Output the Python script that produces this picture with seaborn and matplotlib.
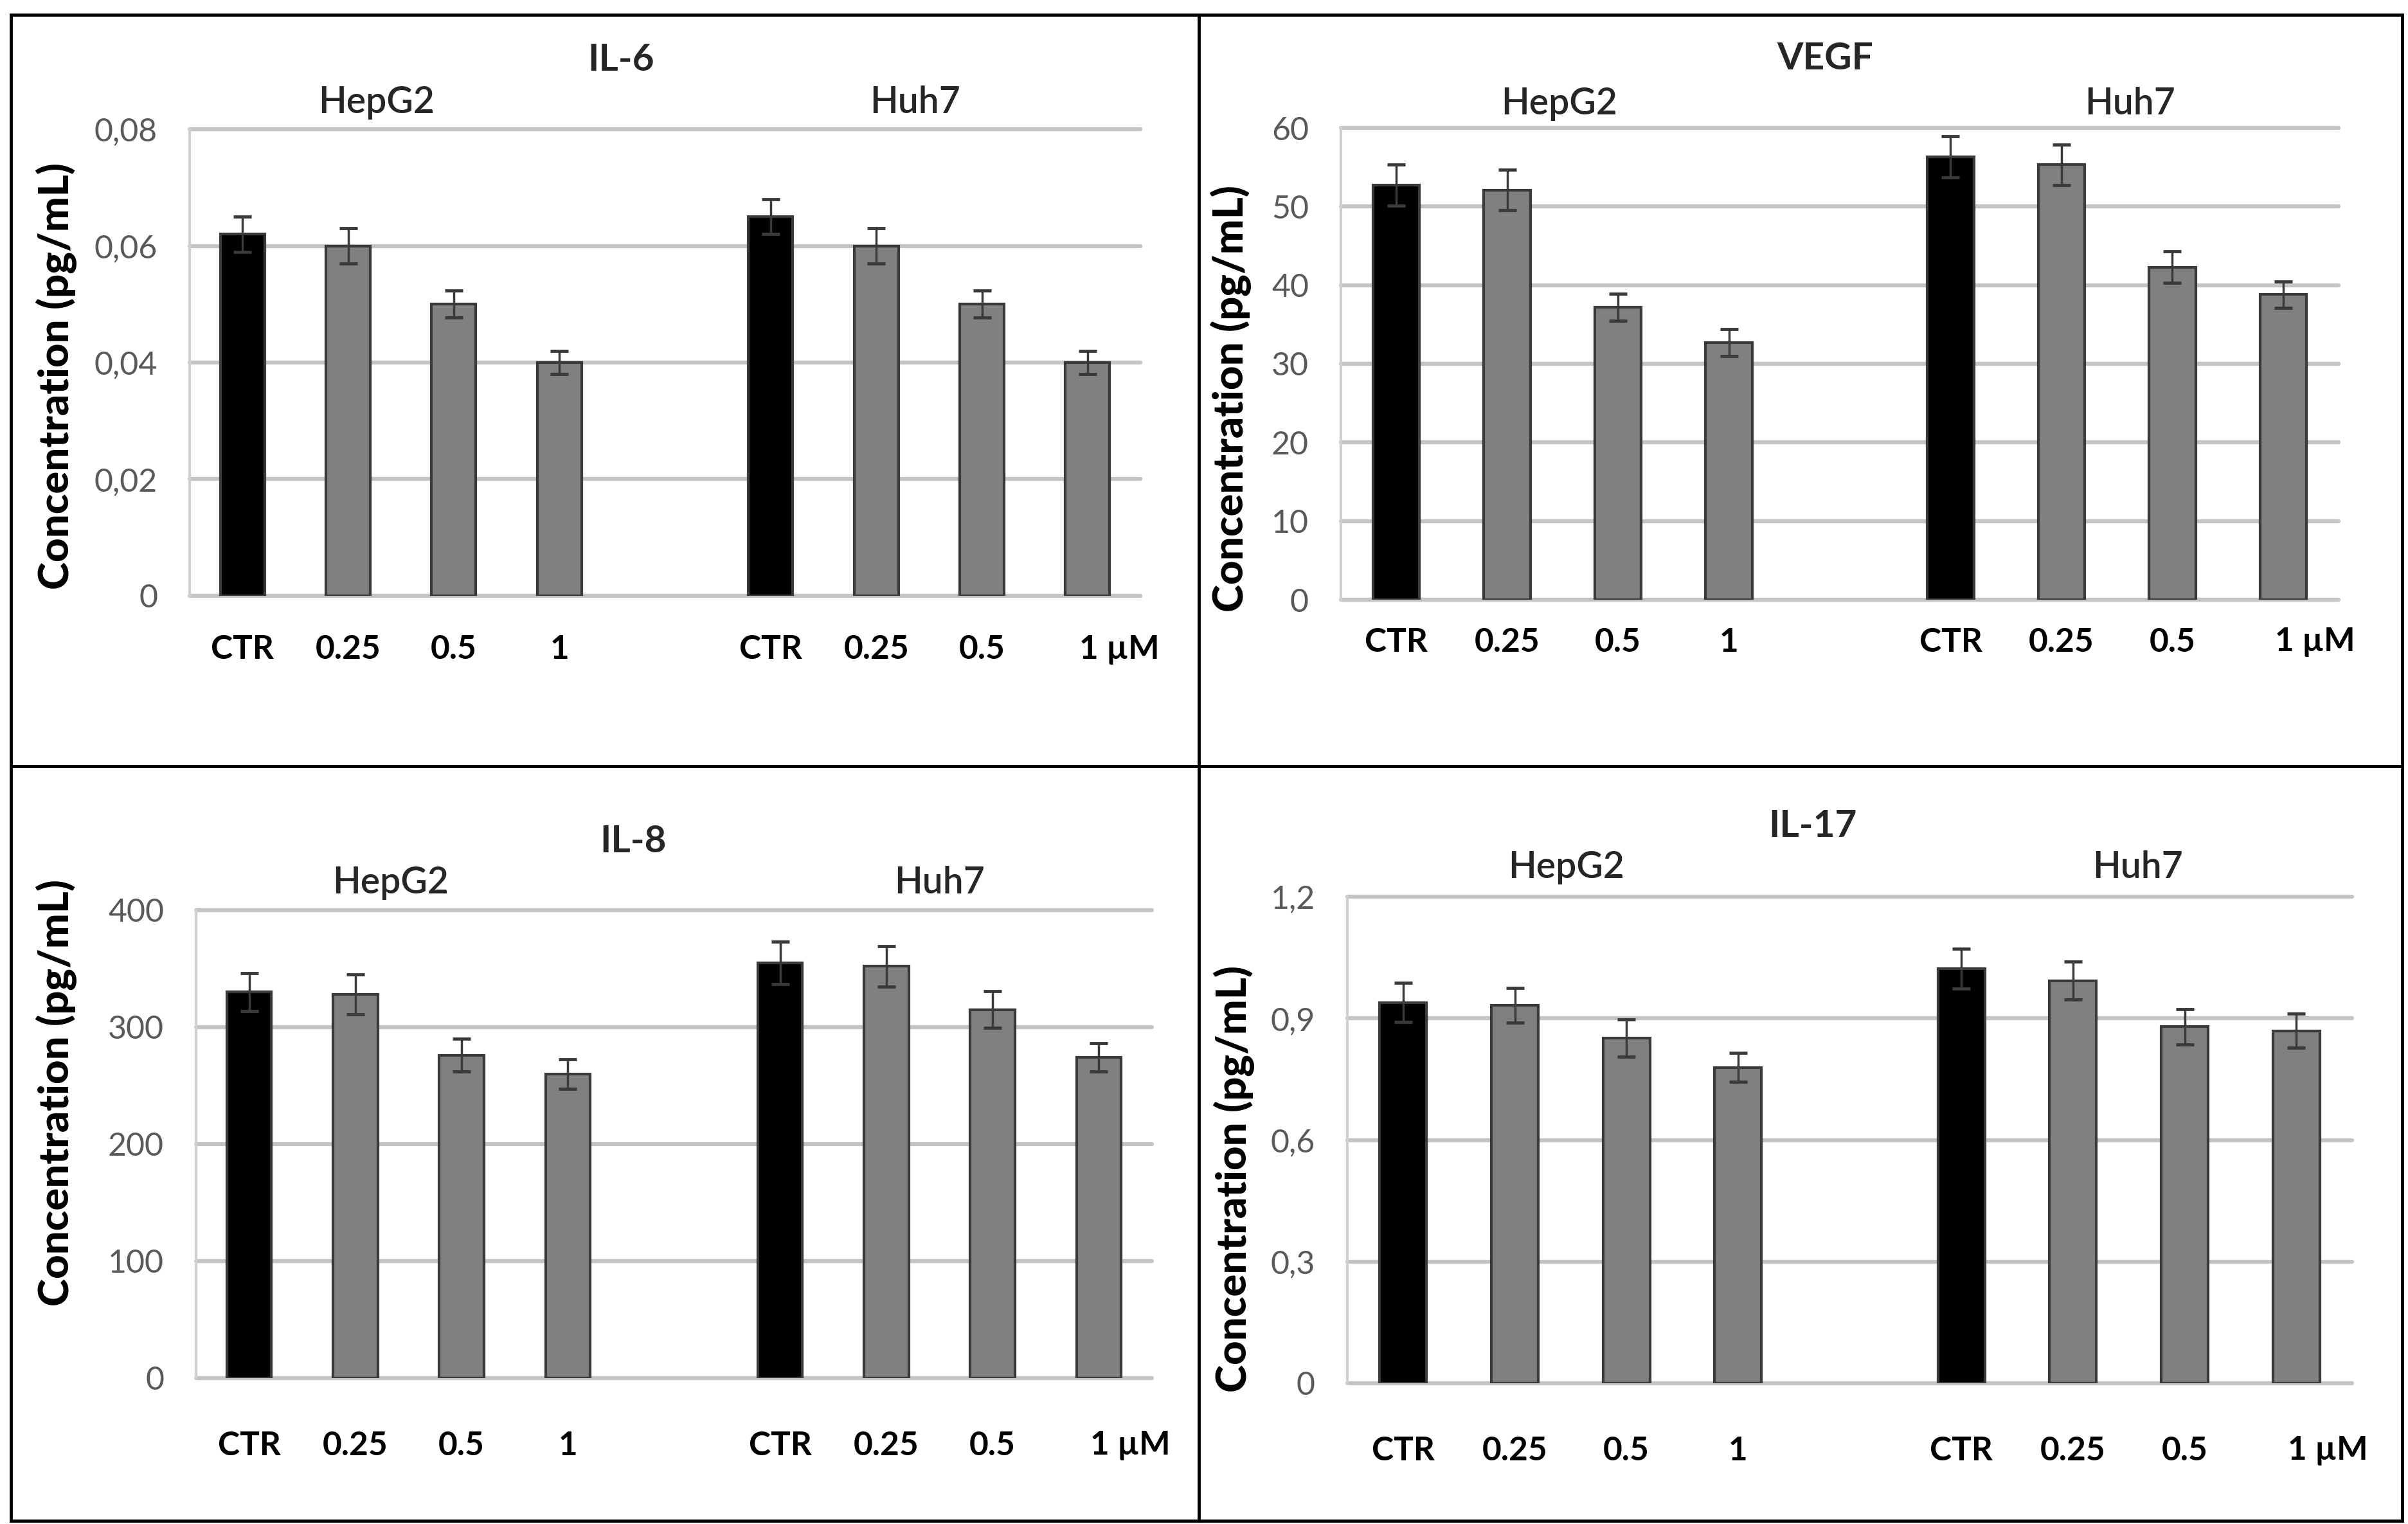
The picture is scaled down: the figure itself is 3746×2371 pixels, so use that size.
import numpy as np
import pandas as pd
import matplotlib
matplotlib.use("Agg")
import matplotlib.pyplot as plt
import seaborn as sns
from matplotlib.lines import Line2D
from matplotlib.patches import Rectangle
from matplotlib.transforms import ScaledTranslation

# ---------------- data ----------------
doses = ["CTR", "0.25", "0.5", "1"]
cell_lines = ["HepG2", "Huh7"]

il6_hepg2 = [0.062, 0.060, 0.050, 0.040]
il6_hepg2_err = [0.003, 0.003, 0.0023, 0.002]
il6_huh7 = [0.065, 0.060, 0.050, 0.040]
il6_huh7_err = [0.003, 0.003, 0.0023, 0.002]

vegf_hepg2 = [52.7, 52.1, 37.2, 32.7]
vegf_hepg2_err = [2.6, 2.6, 1.7, 1.7]
vegf_huh7 = [56.3, 55.3, 42.3, 38.8]
vegf_huh7_err = [2.6, 2.6, 2.0, 1.7]

il8_hepg2 = [330, 328, 276, 260]
il8_hepg2_err = [16, 17, 14, 12.5]
il8_huh7 = [355, 352, 315, 274]
il8_huh7_err = [18, 17.5, 15.5, 12]

il17_hepg2 = [0.939, 0.932, 0.851, 0.779]
il17_hepg2_err = [0.048, 0.043, 0.046, 0.036]
il17_huh7 = [1.022, 0.993, 0.879, 0.869]
il17_huh7_err = [0.049, 0.047, 0.044, 0.042]

il6_ticks = [0, 0.02, 0.04, 0.06, 0.08]
il6_ticklabels = ["0", "0,02", "0,04", "0,06", "0,08"]
vegf_ticks = [0, 10, 20, 30, 40, 50, 60]
vegf_ticklabels = ["0", "10", "20", "30", "40", "50", "60"]
il8_ticks = [0, 100, 200, 300, 400]
il8_ticklabels = ["0", "100", "200", "300", "400"]
il17_ticks = [0, 0.3, 0.6, 0.9, 1.2]
il17_ticklabels = ["0", "0,3", "0,6", "0,9", "1,2"]

x_labels_hepg2 = ["CTR", "0.25", "0.5", "1"]
x_labels_huh7 = ["CTR", "0.25", "0.5", "1 µM"]
ylabel_text = "Concentration (pg/mL)"

# ---------------- style ----------------
sns.set_style("white")
plt.rcParams["font.family"] = ["Lato", "DejaVu Sans"]

W, H = 3746, 2371
DPI = 100
fig = plt.figure(figsize=(W / DPI, H / DPI), dpi=DPI)

def fx(px):
    return px / W

def fy(py):
    return 1 - py / H

panels = [
    dict(title="IL-6", data=(il6_hepg2, il6_hepg2_err, il6_huh7, il6_huh7_err),
         ticks=il6_ticks, ticklabels=il6_ticklabels,
         rect=(295, 201, 1774, 927), title_frac=0.454, title_dy=107,
         group_x=(1.27, 6.37), group_dy=42, xpad=84, ylab=(88, 585)),
    dict(title="VEGF", data=(vegf_hepg2, vegf_hepg2_err, vegf_huh7, vegf_huh7_err),
         ticks=vegf_ticks, ticklabels=vegf_ticklabels,
         rect=(2086, 199, 3638, 933), title_frac=0.485, title_dy=108,
         group_x=(1.47, 6.62), group_dy=37, xpad=66, ylab=(1915, 620)),
    dict(title="IL-8", data=(il8_hepg2, il8_hepg2_err, il8_huh7, il8_huh7_err),
         ticks=il8_ticks, ticklabels=il8_ticklabels,
         rect=(305, 1416, 1792, 2144), title_frac=0.457, title_dy=107,
         group_x=(1.33, 6.50), group_dy=42, xpad=105, ylab=(88, 1700)),
    dict(title="IL-17", data=(il17_hepg2, il17_hepg2_err, il17_huh7, il17_huh7_err),
         ticks=il17_ticks, ticklabels=il17_ticklabels,
         rect=(2096, 1395, 3659, 2152), title_frac=0.463, title_dy=110,
         group_x=(1.46, 6.58), group_dy=45, xpad=105, ylab=(1920, 1834)),
]

palette = {"CTR": "#000000", "treated": "#808080"}
PX2PT = 72 / DPI

for p in panels:
    l, t, r, b = p["rect"]
    ax = fig.add_axes([fx(l), fy(b), fx(r) - fx(l), fy(t) - fy(b)])

    v1, e1, v2, e2 = p["data"]
    rows = []
    for cell, vals, errs in ((cell_lines[0], v1, e1), (cell_lines[1], v2, e2)):
        for d, v, e in zip(doses, vals, errs):
            rows.append(dict(key=f"{cell} {d}", value=v, err=e,
                             group="CTR" if d == "CTR" else "treated"))
    df = pd.DataFrame(rows)
    order = [f"{cell_lines[0]} {d}" for d in doses] + ["gap"] + \
            [f"{cell_lines[1]} {d}" for d in doses]

    sns.barplot(data=df, x="key", y="value", hue="group", order=order,
                palette=palette, dodge=False, width=0.42, errorbar=None,
                edgecolor="#3a3a3a", linewidth=3, legend=False, ax=ax, zorder=2)

    pos = [order.index(k) for k in df["key"]]
    ax.errorbar(pos, df["value"], yerr=df["err"], fmt="none", ecolor="#3a3a3a",
                elinewidth=2.5, capsize=10, capthick=3.5, zorder=3)

    ax.set_xlim(-0.5, len(order) - 0.5)
    ax.set_ylim(p["ticks"][0], p["ticks"][-1])
    ax.set_yticks(p["ticks"])
    ax.set_yticklabels(p["ticklabels"], fontsize=36, color="#595959")
    ax.set_xticks(range(len(order)))
    ax.set_xticklabels(x_labels_hepg2 + [""] + x_labels_huh7,
                       fontsize=37, fontweight="bold", color="black")
    ax.set_xlabel("")
    ax.tick_params(axis="y", length=0, pad=50 * PX2PT)
    ax.tick_params(axis="x", length=0, pad=p["xpad"] * PX2PT)
    for lab in ax.get_xticklabels():
        lab.set_va("center")

    ax.yaxis.grid(True, color="#c4c4c4", linewidth=4.5, clip_on=False)
    ax.xaxis.grid(False)
    for s in ("top", "right", "bottom"):
        ax.spines[s].set_visible(False)
    ax.spines["left"].set_color("#d0d0d0")
    ax.spines["left"].set_linewidth(3)

    ax.set_ylabel(ylabel_text, fontsize=47, fontweight="black", color="black")
    ax.yaxis.set_label_coords(fx(p["ylab"][0]), fy(p["ylab"][1]), transform=fig.transFigure)
    ax.yaxis.label.set_va("center")

    ax.annotate(p["title"], xy=(p["title_frac"], 1), xycoords="axes fraction",
                xytext=(0, p["title_dy"] * PX2PT), textcoords="offset points",
                ha="center", va="center", fontsize=42, fontweight="bold")
    for cell, gx in zip(cell_lines, p["group_x"]):
        ax.annotate(cell, xy=(gx, 1), xycoords=("data", "axes fraction"),
                    xytext=(0, p["group_dy"] * PX2PT), textcoords="offset points",
                    ha="center", va="center", fontsize=41, fontweight="semibold")

    last = ax.get_xticklabels()[-1]
    last.set_ha("left")
    last.set_transform(last.get_transform() + ScaledTranslation(-13 / DPI, 0, fig.dpi_scale_trans))

# panel borders
fig.add_artist(Rectangle((fx(17), fy(2366)), fx(3737) - fx(17), fy(23) - fy(2366),
                         transform=fig.transFigure, fill=False, edgecolor="black", linewidth=3.5))
fig.add_artist(Line2D([fx(1865), fx(1865)], [fy(2366), fy(23)], transform=fig.transFigure,
                      color="black", linewidth=3.5))
fig.add_artist(Line2D([fx(17), fx(3737)], [fy(1192), fy(1192)], transform=fig.transFigure,
                      color="black", linewidth=3.5))

fig.savefig("out.png", dpi=DPI, facecolor="white")
